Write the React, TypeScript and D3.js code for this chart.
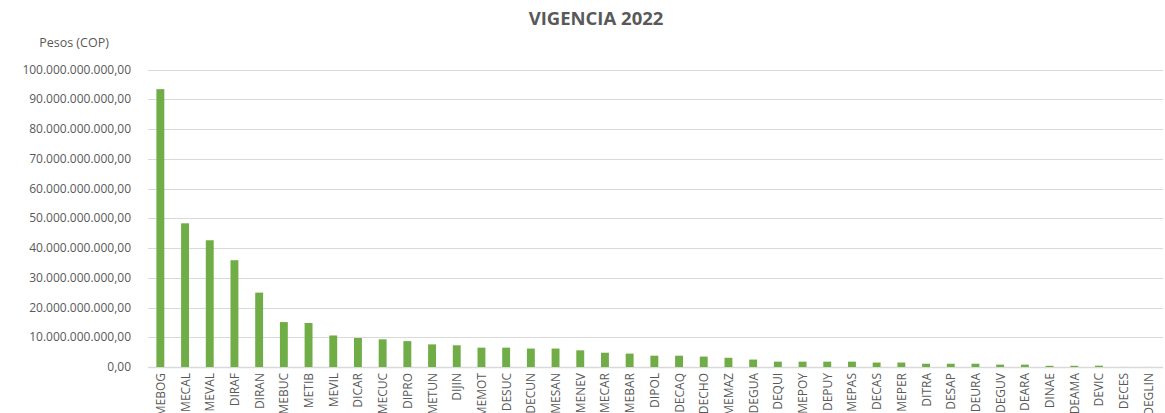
import * as d3 from 'd3'
import React, { useEffect, useRef } from 'react'

// unidades (categorías) en el orden del gráfico
const categories = [
    'MEBOG', 'MECAL', 'MEVAL', 'DIRAF', 'DIRAN', 'MEBUC', 'METIB', 'MEVIL', 'DICAR', 'MECUC',
    'DIPRO', 'METUN', 'DIJIN', 'MEMOT', 'DESUC', 'DECUN', 'MESAN', 'MENEV', 'MECAR', 'MEBAR',
    'DIPOL', 'DECAQ', 'DECHO', 'MEMAZ', 'DEGUA', 'DEQUI', 'MEPOY', 'DEPUY', 'MEPAS', 'DECAS',
    'MEPER', 'DITRA', 'DESAP', 'DEURA', 'DEGUV', 'DEARA', 'DINAE', 'DEAMA', 'DEVIC', 'DECES',
    'DEGLIN',
]

// pesos, en miles de millones
const valuesBn = [
    93.4, 48.3, 42.6, 35.9, 25.0, 15.1, 14.8, 10.6, 9.75, 9.3,
    8.7, 7.6, 7.3, 6.5, 6.5, 6.2, 6.2, 5.6, 4.8, 4.5,
    3.8, 3.8, 3.5, 3.1, 2.5, 1.8, 1.8, 1.8, 1.8, 1.5,
    1.5, 1.1, 1.1, 1.1, 0.8, 0.8, 0.4, 0.4, 0.45, 0.02,
    0.01,
]

const yTicks = [0, 10e9, 20e9, 30e9, 40e9, 50e9, 60e9, 70e9, 80e9, 90e9, 100e9]

const title = 'VIGENCIA 2022'
const yTitle = 'Pesos (COP)'

const fmt = (v: number) => {
    const s = Math.round(v).toString().replace(/\B(?=(\d{3})+(?!\d))/g, '.')
    return s + ',00'
}

const App: React.FC = () => {
    const ref = useRef<SVGSVGElement>(null)

    useEffect(() => {
        if (!ref.current) return
        const width = 1165
        const height = 413
        const margin = { top: 69.5, left: 148, right: 4, bottom: 46 }
        const font = "'Open Sans', 'DejaVu Sans', sans-serif"
        const data = categories.map((c, i) => ({ label: c, value: valuesBn[i] * 1e9 }))

        const svg = d3.select(ref.current)
        svg.selectAll('*').remove()
        svg.attr('width', width).attr('height', height)

        const x = d3.scaleBand<string>()
            .domain(categories)
            .range([margin.left, margin.left + 41 * 24.7])
            .paddingInner(0.68)
            .paddingOuter(0.34)

        const y = d3.scaleLinear()
            .domain([0, 100e9])
            .range([height - margin.bottom, margin.top])

        svg.append('g')
            .selectAll('line')
            .data(yTicks)
            .enter()
            .append('line')
            .attr('x1', margin.left)
            .attr('x2', width - 2)
            .attr('y1', d => Math.round(y(d)) + 0.5)
            .attr('y2', d => Math.round(y(d)) + 0.5)
            .attr('stroke', '#d9d9d9')
            .attr('stroke-width', d => (d === 0 ? 1.5 : 1))

        svg.append('g')
            .attr('font-family', font)
            .attr('font-size', 12)
            .attr('fill', '#595959')
            .attr('text-anchor', 'end')
            .selectAll('text')
            .data(yTicks)
            .enter()
            .append('text')
            .attr('x', 131)
            .attr('y', d => y(d) + 4)
            .text(d => fmt(d))

        svg.append('g')
            .attr('fill', '#70ad47')
            .selectAll('rect')
            .data(data)
            .enter()
            .append('rect')
            .attr('x', d => x(d.label)!)
            .attr('width', x.bandwidth())
            .attr('y', d => y(d.value))
            .attr('height', d => y(0) - y(d.value))

        svg.append('g')
            .attr('font-family', font)
            .attr('font-size', 12)
            .attr('fill', '#595959')
            .attr('text-anchor', 'end')
            .selectAll('text')
            .data(categories)
            .enter()
            .append('text')
            .attr('transform', d => `translate(${x(d)! + x.bandwidth() / 2 + 4.5},${y(0) + 6}) rotate(-90)`)
            .text(d => d)

        svg.append('text')
            .attr('x', 596)
            .attr('y', 25)
            .attr('text-anchor', 'middle')
            .attr('font-family', font)
            .attr('font-size', 18.5)
            .attr('font-weight', 'bold')
            .attr('fill', '#595959')
            .text(title)

        svg.append('text')
            .attr('x', 74)
            .attr('y', 47)
            .attr('text-anchor', 'middle')
            .attr('font-family', font)
            .attr('font-size', 12.5)
            .attr('fill', '#595959')
            .text(yTitle)
    }, [])

    return <svg ref={ref} style={{ position: 'absolute', left: 0, top: 0, background: '#fff' }}></svg>
}

export default App
